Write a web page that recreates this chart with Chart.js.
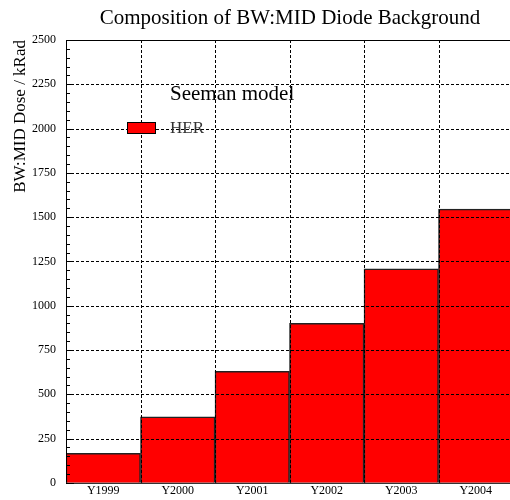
<!DOCTYPE html>
<html>
<head>
<meta charset="utf-8">
<script src="https://cdn.jsdelivr.net/npm/chart.js"></script>
<style>
    html, body { margin: 0; padding: 0; background: #fff; overflow: hidden; }
    #wrap { width: 520px; height: 500px; }
</style>
</head>
<body>
<div id="wrap"><canvas id="doseChart" width="520" height="500"></canvas></div>
<script>
"use strict";

// Dose per running year
const years = ["Y1999", "Y2000", "Y2001", "Y2002", "Y2003", "Y2004"];
const herDose = [167, 372, 630, 900, 1208, 1545];
const doseTicks = [0, 250, 500, 750, 1000, 1250, 1500, 1750, 2000, 2250, 2500];
const minorStep = 50;

const serif = "'Liberation Serif', 'DejaVu Serif', serif";

// Title, frame, dotted grid over the bars, inner ticks and the model legend
const rootStyle = {
    id: "rootStyle",
    afterDatasetsDraw(chart) {
        const { ctx, chartArea: { top, right, bottom, left } } = chart;
        const xScale = chart.scales.x;
        const yScale = chart.scales.y;
        ctx.save();
        ctx.strokeStyle = "#000";
        ctx.lineWidth = 1;
        ctx.setLineDash([3, 2]);
        ctx.beginPath();
        for (const v of doseTicks.slice(1, -1)) {
            let py = Math.round(yScale.getPixelForValue(v)) + 0.5;
            ctx.moveTo(left, py);
            ctx.lineTo(right, py);
        }
        const half = (xScale.getPixelForValue(1) - xScale.getPixelForValue(0)) / 2;
        for (let i = 0; i < years.length; i++) {
            let px = Math.round(xScale.getPixelForValue(i) + half) + 0.5;
            ctx.moveTo(px, top);
            ctx.lineTo(px, bottom);
        }
        ctx.stroke();
        ctx.restore();
    },
    afterDraw(chart) {
        const { ctx, chartArea: { top, right, bottom, left } } = chart;
        const yScale = chart.scales.y;
        ctx.save();

        // title
        ctx.fillStyle = "#000";
        ctx.font = "21px " + serif;
        ctx.textAlign = "center";
        ctx.textBaseline = "middle";
        ctx.fillText("Composition of BW:MID Diode Background", 290, 18);

        // solid frame
        ctx.strokeStyle = "#000";
        ctx.lineWidth = 1;
        ctx.beginPath();
        ctx.moveTo(left, top + 0.5);
        ctx.lineTo(right, top + 0.5);
        ctx.moveTo(left + 0.5, top);
        ctx.lineTo(left + 0.5, bottom);
        ctx.moveTo(left, bottom + 0.5);
        ctx.lineTo(right, bottom + 0.5);
        ctx.stroke();

        // ticks on the inside of the y axis
        for (let v = doseTicks[0]; v <= doseTicks[doseTicks.length - 1]; v += minorStep) {
            let py = Math.round(yScale.getPixelForValue(v)) + 0.5;
            let len = (v % 250 === 0) ? 8 : 4;
            ctx.beginPath();
            ctx.moveTo(left, py);
            ctx.lineTo(left + len, py);
            ctx.stroke();
        }

        // legend
        ctx.textAlign = "left";
        ctx.font = "21px " + serif;
        ctx.fillText("Seeman model", left + 104, top + 54);

        const ds = chart.data.datasets[0];
        ctx.fillStyle = ds.backgroundColor;
        ctx.fillRect(left + 61.5, top + 82.5, 28, 11);
        ctx.strokeRect(left + 61.5, top + 82.5, 28, 11);
        ctx.fillStyle = "#333";
        ctx.font = "17px " + serif;
        ctx.fillText(ds.label, left + 104, top + 89);

        ctx.restore();
    }
};

new Chart(document.getElementById("doseChart"), {
    type: "bar",
    data: {
        labels: years,
        datasets: [{
            label: "HER",
            data: herDose,
            backgroundColor: "#ff0000",
            borderColor: "#222",
            borderWidth: 1.5,
            borderSkipped: "bottom",
            barPercentage: 1,
            categoryPercentage: 1
        }]
    },
    options: {
        responsive: false,
        animation: false,
        layout: { padding: { left: 0, right: 7, top: 40, bottom: 0 } },
        plugins: {
            legend: { display: false },
            tooltip: { enabled: false },
            title: { display: false }
        },
        scales: {
            x: {
                grid: { display: false, drawTicks: false },
                border: { display: false },
                ticks: {
                    color: "#000",
                    padding: 1,
                    font: { family: serif, size: 12 }
                },
                afterFit(scale) { scale.height = 14; }
            },
            y: {
                min: 0,
                max: 2500,
                afterBuildTicks(scale) {
                    scale.ticks = doseTicks.map(v => ({ value: v }));
                },
                grid: { display: false, drawTicks: false },
                border: { display: false },
                ticks: {
                    color: "#000",
                    padding: 10,
                    font: { family: serif, size: 12 },
                    callback: v => String(v)
                },
                title: {
                    display: true,
                    text: "BW:MID Dose / kRad",
                    align: "end",
                    color: "#000",
                    font: { family: serif, size: 17 },
                    padding: { top: 10, bottom: 0 }
                },
                afterFit(scale) { scale.width = 66; }
            }
        }
    },
    plugins: [rootStyle]
});
</script>
</body>
</html>
